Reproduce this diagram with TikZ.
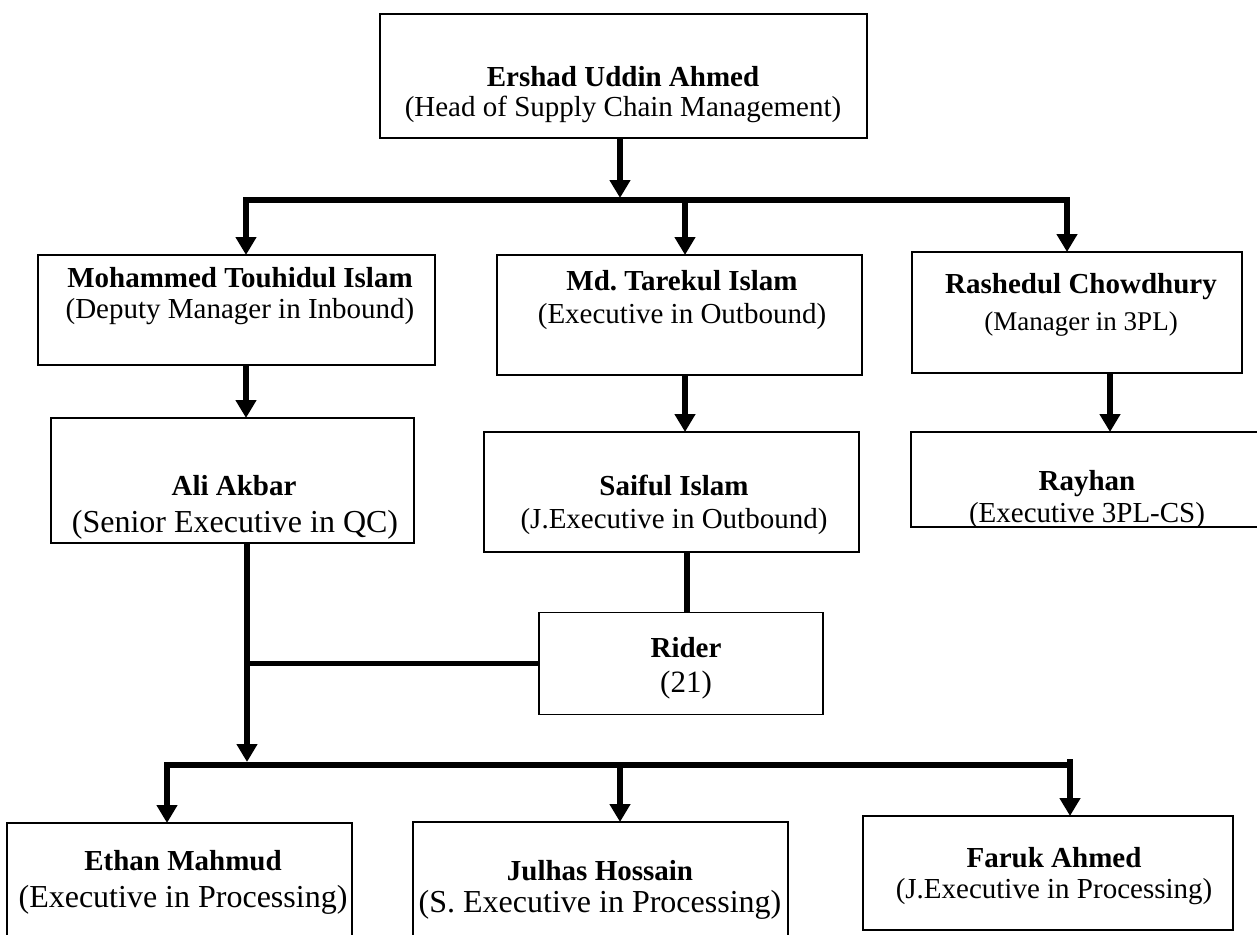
\documentclass[tikz,border=0pt]{standalone}
\usepackage{fontspec}
\setmainfont{Liberation Serif}
\usetikzlibrary{arrows.meta,calc}
\frenchspacing
\begin{document}
\begin{tikzpicture}[x=1pt,y=-1pt,
  box/.style={draw, line width=1.8pt, inner sep=0pt, outer sep=0pt},
  conn/.style={line width=5.5pt},
  arr/.style={conn, -{Triangle[length=18pt,width=20pt]}},
  nm/.style={font=\fontsize{29}{33}\selectfont\bfseries, anchor=base, inner sep=0pt},
  rl/.style={font=\fontsize{29}{33}\selectfont, anchor=base, inner sep=0pt},
  rlb/.style={font=\fontsize{32}{36}\selectfont, anchor=base, inner sep=0pt}]
\useasboundingbox (0,0) rectangle (1257,934);
\clip (0,0) rectangle (1257,934);
% boxes
\node[box, minimum width=487pt, minimum height=124pt] (top) at (623.5,76) {};
\node[box, minimum width=397pt, minimum height=110pt] (moh) at (236.5,310) {};
\node[box, minimum width=365pt, minimum height=120pt] (tar) at (679.5,315) {};
\node[box, minimum width=330pt, minimum height=121pt] (ras) at (1077,312.5) {};
\node[box, minimum width=363pt, minimum height=125pt] (ali) at (232.5,480.5) {};
\node[box, minimum width=375pt, minimum height=120pt] (sai) at (671.5,492) {};
\node[box, minimum width=358pt, minimum height=95pt] (ray) at (1090,479.5) {};
\node[box, minimum width=284pt, minimum height=102pt] (rider) at (681,663.5) {};
\node[box, minimum width=345pt, minimum height=127pt] (eth) at (179.5,886.5) {};
\node[box, minimum width=375pt, minimum height=128pt] (jul) at (600.5,886) {};
\node[box, minimum width=370pt, minimum height=114pt] (far) at (1048,873) {};
% texts
\node[nm] (topn) at (623,86) {Ershad Uddin Ahmed};
\node[rl] (topr) at (623,116) {(Head of Supply Chain Management)};
\node[nm] (mohn) at (240,287) {Mohammed Touhidul Islam};
\node[rl] (mohr) at (240,318) {(Deputy Manager in Inbound)};
\node[nm] (tarn) at (682,290) {Md. Tarekul Islam};
\node[rl] (tarr) at (682,323) {(Executive in Outbound)};
\node[nm] (rasn) at (1081,293) {Rashedul Chowdhury};
\node[rl, font=\fontsize{27}{31}\selectfont] (rasr) at (1081,330) {(Manager in 3PL)};
\node[nm] (alin) at (234,495) {Ali Akbar};
\node[rlb] (alir) at (235,532) {(Senior Executive in QC)};
\node[nm] (sain) at (674,495) {Saiful Islam};
\node[rl] (sair) at (674,528) {(J.Executive in Outbound)};
\node[nm] (rayn) at (1087,490) {Rayhan};
\node[rl] (rayr) at (1087,522) {(Executive 3PL-CS)};
\node[nm] (ridn) at (686,657) {Rider};
\node[rl, font=\fontsize{31}{35}\selectfont] (ridr) at (686,692) {(21)};
\node[nm] (ethn) at (183,870) {Ethan Mahmud};
\node[rlb] (ethr) at (183,907) {(Executive in Processing)};
\node[nm] (juln) at (600,880) {Julhas Hossain};
\node[rlb] (julr) at (600,912) {(S. Executive in Processing)};
\node[nm] (farn) at (1054,867) {Faruk Ahmed};
\node[rl] (farr) at (1054,898) {(J.Executive in Processing)};
% junction coordinates
\coordinate (j1) at (620,200);
\coordinate (mohin) at (246,255);
\coordinate (tarin) at (685,255);
\coordinate (rasin) at (1067,252);
\coordinate (rasout) at (1110,373);
\coordinate (saiout) at (687,552);
\coordinate (j2) at (247,765);
\coordinate (ethin) at (167,823);
\coordinate (julin) at (620,822);
\coordinate (farin) at (1070,816);
% connectors
\draw[arr] (top.south -| j1) -- ($(j1)+(0,-2)$);
\draw[arr] (j1) -| (mohin);
\draw[arr] (j1) -| (rasin);
\draw[arr] (j1 -| tarin) -- (tarin);
\draw[arr] (moh.south -| mohin) -- (mohin |- ali.north);
\draw[arr] (tar.south -| tarin) -- (tarin |- sai.north);
\draw[arr] (rasout) -- (rasout |- ray.north);
\draw[conn] (saiout) -- (saiout |- rider.north);
\draw[conn] (rider.west) -- (rider.west -| j2);
\draw[arr] (ali.south -| j2) -- ($(j2)+(0,-3)$);
\draw[arr] (j2) -| (ethin);
\draw[arr] (j2) -| (farin);
\draw[arr] (j2 -| julin) -- (julin);
\draw[conn] ($(j2 -| farin)+(0,-6)$) -- (j2 -| farin);
\end{tikzpicture}
\end{document}
